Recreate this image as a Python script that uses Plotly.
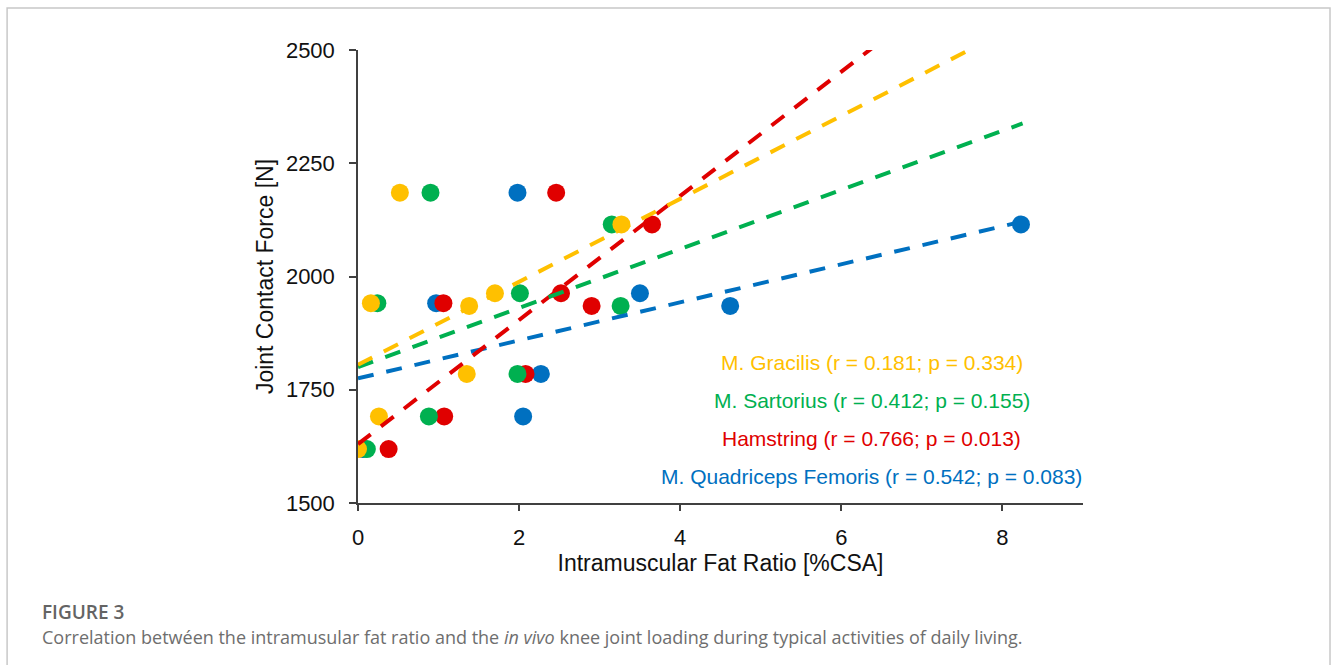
import plotly.graph_objects as go

# ---- data ----
force = [2185, 2115, 1941, 1963, 1935, 1785, 1691, 1619]
gracilis_x = [0.52, 3.27, 0.16, 1.70, 1.38, 1.35, 0.26, 0.00]
sartorius_x = [0.90, 3.15, 0.24, 2.01, 3.26, 1.98, 0.88, 0.11]
hamstring_x = [2.46, 3.65, 1.06, 2.52, 2.90, 2.08, 1.07, 0.38]
quadriceps_x = [1.98, 8.23, 0.97, 3.50, 4.62, 2.27, 2.05, 0.06]

muscles = ["M. Gracilis", "M. Sartorius", "Hamstring", "M. Quadriceps Femoris"]
r_values = ["0.181", "0.412", "0.766", "0.542"]
p_values = ["0.334", "0.155", "0.013", "0.083"]
trend_intercept = [1805, 1800, 1630, 1775]
trend_slope = [91.6, 65.2, 137.0, 42.0]
trend_x_range = [0.0, 8.25]

x_ticks = [0, 2, 4, 6, 8]
y_ticks = [1500, 1750, 2000, 2250, 2500]

colors = ["#FFC000", "#00B050", "#E00000", "#0070C0"]
series_x = [gracilis_x, sartorius_x, hamstring_x, quadriceps_x]

fig = go.Figure()

# points: blue bottom, then red, green, yellow on top
for i in [3, 2, 1, 0]:
    fig.add_trace(go.Scatter(
        x=series_x[i], y=force, mode="markers",
        marker=dict(size=18, color=colors[i], line=dict(width=0)),
        name=muscles[i], showlegend=False, hoverinfo="x+y"))

# trend lines
for i in [3, 2, 1, 0]:
    xs = trend_x_range
    ys = [trend_intercept[i] + trend_slope[i] * v for v in xs]
    fig.add_trace(go.Scatter(
        x=xs, y=ys, mode="lines",
        line=dict(color=colors[i], width=4, dash="16px,13px"),
        showlegend=False, hoverinfo="skip"))

AX_FONT = "Liberation Sans, Arial, sans-serif"

# in-plot labels
label_y = [1811, 1727, 1643, 1559]
for i in range(4):
    fig.add_annotation(
        x=6.38, y=label_y[i], xref="x", yref="y",
        text=f"{muscles[i]} (r = {r_values[i]}; p = {p_values[i]})",
        showarrow=False, xanchor="center", yanchor="middle",
        font=dict(family=AX_FONT, size=21, color=colors[i]))

# caption
fig.add_annotation(
    x=-0.4386, y=-0.2406, xref="paper", yref="paper",
    text="FIGURE 3", showarrow=False, xanchor="left", yanchor="middle",
    font=dict(family="Open Sans, sans-serif", size=19, color="#646464", weight=600))
fig.add_annotation(
    x=-0.4386, y=-0.2958, xref="paper", yref="paper",
    text="Correlation betwéen the intramusular fat ratio and the <i>in vivo</i> knee joint loading during typical activities of daily living.",
    showarrow=False, xanchor="left", yanchor="middle",
    font=dict(family="Open Sans, sans-serif", size=18, color="#6e6e6e"))

# frame around figure
fig.add_shape(type="rect", xref="paper", yref="paper",
              x0=-0.484, x1=1.3407, y0=-0.45, y1=1.0927,
              line=dict(color="#c8c8c8", width=1.5), fillcolor="rgba(0,0,0,0)",
              layer="below")

fig.update_layout(
    width=1333, height=665, autosize=False,
    margin=dict(l=358, r=250, t=50, b=162, pad=0),
    plot_bgcolor="white", paper_bgcolor="white",
    font=dict(family=AX_FONT, color="#111111"),
    showlegend=False,
)
fig.update_xaxes(
    range=[0, 9], tickvals=x_ticks, ticktext=[str(v) for v in x_ticks],
    showgrid=False, zeroline=False, showline=True, linecolor="#404040", linewidth=1.5,
    ticks="outside", ticklen=6, tickwidth=1.5, tickcolor="#404040",
    tickfont=dict(size=22, family=AX_FONT, color="#111111"), ticklabelstandoff=8,
    title=dict(text="Intramuscular Fat Ratio [%CSA]", font=dict(size=23, family=AX_FONT, color="#111111"), standoff=5),
)
fig.update_yaxes(
    range=[1500, 2500], tickvals=y_ticks, ticktext=[str(v) for v in y_ticks],
    showgrid=False, zeroline=False, showline=True, linecolor="#404040", linewidth=1.5,
    ticks="outside", ticklen=7, tickwidth=1.5, tickcolor="#404040",
    tickfont=dict(size=22, family=AX_FONT, color="#111111"), ticklabelstandoff=10,
    title=dict(text="Joint Contact Force [N]", font=dict(size=23, family=AX_FONT, color="#111111"), standoff=6),
)

fig.write_html("out.html", config={"displayModeBar": False},
               post_script="document.body.style.margin='0';")
